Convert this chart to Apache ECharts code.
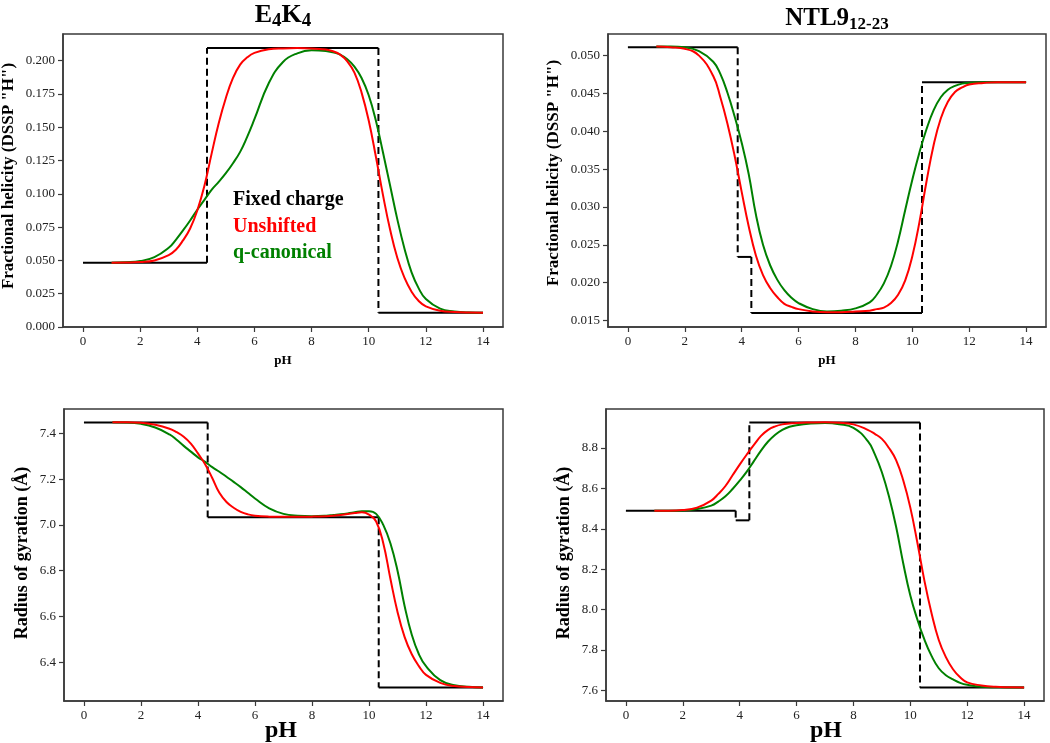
<!DOCTYPE html>
<html><head><meta charset="utf-8">
<script src="https://cdn.jsdelivr.net/npm/echarts@6/dist/echarts.min.js"></script>
<style>html,body{margin:0;padding:0;background:#fff}#c{width:1050px;height:743px}</style>
</head><body><div id="c"></div>
<script>
// ---------------- DATA ----------------
const pH = [1, 1.5, 2, 2.5, 3, 3.25, 3.5, 3.75, 4, 4.25, 4.5, 4.75, 5, 5.25, 5.5, 5.75, 6, 6.5, 7, 7.5,
            8, 8.5, 8.75, 9, 9.25, 9.5, 9.75, 10, 10.25, 10.5, 10.75, 11, 11.25, 11.5, 11.75, 12, 12.5, 13, 13.5, 14];

// E4K4 fractional helicity
const e4k4HelixUnshifted = [0.0483, 0.0484, 0.0488, 0.0500, 0.0540, 0.0580, 0.0650, 0.0740, 0.0875, 0.1060, 0.1300, 0.1530, 0.1720, 0.1870, 0.1970, 0.2025, 0.2058, 0.2085, 0.2092, 0.2094,
                            0.2092, 0.2083, 0.2070, 0.2045, 0.1995, 0.1910, 0.1760, 0.1550, 0.1280, 0.0990, 0.0730, 0.0520, 0.0370, 0.0265, 0.0195, 0.0155, 0.0122, 0.0112, 0.0108, 0.0107];
const e4k4HelixQcanonical = [0.0483, 0.0486, 0.0495, 0.0525, 0.0595, 0.0655, 0.0725, 0.0800, 0.0880, 0.0955, 0.1030, 0.1090, 0.1155, 0.1230, 0.1315, 0.1430, 0.1560, 0.1830, 0.1990, 0.2055,
                             0.2078, 0.2073, 0.2062, 0.2045, 0.2010, 0.1955, 0.1870, 0.1740, 0.1550, 0.1310, 0.1060, 0.0810, 0.0590, 0.0410, 0.0290, 0.0210, 0.0138, 0.0117, 0.0109, 0.0107];
const e4k4HelixFixedBreaks = [4.34, 10.34];
const e4k4HelixFixedLevels = [0.0483, 0.2095, 0.0107];

// NTL9(12-23) fractional helicity
const ntl9HelixUnshifted = [0.0512, 0.0511, 0.0509, 0.0500, 0.0473, 0.0445, 0.0410, 0.0368, 0.0320, 0.0274, 0.0236, 0.0210, 0.0193, 0.0181, 0.0172, 0.0168, 0.0165, 0.0162, 0.0161, 0.0161,
                            0.0162, 0.0163, 0.0165, 0.0167, 0.0173, 0.0184, 0.0203, 0.0235, 0.0280, 0.0334, 0.0382, 0.0417, 0.0439, 0.0452, 0.0458, 0.0462, 0.0464, 0.0465, 0.0465, 0.0465];
const ntl9HelixQcanonical = [0.0512, 0.0512, 0.0511, 0.0506, 0.0492, 0.0476, 0.0451, 0.0420, 0.0385, 0.0343, 0.0290, 0.0250, 0.0223, 0.0204, 0.0190, 0.0180, 0.0173, 0.0165, 0.0162, 0.0163,
                             0.0166, 0.0174, 0.0184, 0.0199, 0.0222, 0.0255, 0.0296, 0.0336, 0.0372, 0.0403, 0.0428, 0.0445, 0.0455, 0.0460, 0.0463, 0.0464, 0.0465, 0.0465, 0.0465, 0.0465];
const ntl9HelixFixedBreaks = [3.86, 4.34, 10.34];
const ntl9HelixFixedLevels = [0.0511, 0.0234, 0.0160, 0.0465];

// E4K4 radius of gyration
const e4k4RgUnshifted = [7.448, 7.448, 7.446, 7.437, 7.420, 7.405, 7.385, 7.355, 7.312, 7.265, 7.205, 7.140, 7.100, 7.075, 7.057, 7.046, 7.040, 7.036, 7.035, 7.035,
                         7.036, 7.038, 7.040, 7.043, 7.048, 7.052, 7.055, 7.045, 7.015, 6.920, 6.765, 6.620, 6.510, 6.435, 6.383, 6.345, 6.310, 6.296, 6.292, 6.290];
const e4k4RgQcanonical = [7.448, 7.447, 7.441, 7.425, 7.395, 7.372, 7.345, 7.320, 7.295, 7.275, 7.252, 7.232, 7.210, 7.188, 7.165, 7.140, 7.115, 7.072, 7.048, 7.040,
                          7.038, 7.040, 7.043, 7.046, 7.050, 7.055, 7.060, 7.060, 7.048, 7.000, 6.920, 6.800, 6.645, 6.520, 6.435, 6.383, 6.322, 6.300, 6.293, 6.290];
const e4k4RgFixedBreaks = [4.34, 10.34];
const e4k4RgFixedLevels = [7.447, 7.033, 6.290];

// NTL9(12-23) radius of gyration
const ntl9RgUnshifted = [8.490, 8.490, 8.493, 8.505, 8.540, 8.573, 8.612, 8.665, 8.718, 8.768, 8.815, 8.860, 8.890, 8.907, 8.917, 8.921, 8.924, 8.926, 8.927, 8.925,
                         8.917, 8.890, 8.870, 8.845, 8.800, 8.740, 8.640, 8.505, 8.330, 8.140, 7.980, 7.850, 7.765, 7.705, 7.665, 7.640, 7.625, 7.618, 7.616, 7.615];
const ntl9RgQcanonical = [8.490, 8.490, 8.491, 8.498, 8.515, 8.535, 8.561, 8.597, 8.638, 8.683, 8.735, 8.787, 8.832, 8.866, 8.890, 8.905, 8.913, 8.921, 8.924, 8.918,
                          8.900, 8.835, 8.770, 8.680, 8.560, 8.410, 8.230, 8.070, 7.950, 7.850, 7.770, 7.710, 7.675, 7.655, 7.638, 7.628, 7.618, 7.616, 7.615, 7.615];
const ntl9RgFixedBreaks = [3.86, 4.34, 10.34];
const ntl9RgFixedLevels = [8.490, 8.442, 8.926, 7.615];

// Tick labels
const pHTicks = [0, 2, 4, 6, 8, 10, 12, 14];
const e4k4HelixTicks = [0.000, 0.025, 0.050, 0.075, 0.100, 0.125, 0.150, 0.175, 0.200];
const ntl9HelixTicks = [0.015, 0.020, 0.025, 0.030, 0.035, 0.040, 0.045, 0.050];
const e4k4RgTicks = [6.4, 6.6, 6.8, 7.0, 7.2, 7.4];
const ntl9RgTicks = [7.6, 7.8, 8.0, 8.2, 8.4, 8.6, 8.8];

const legendLabels = ['Fixed charge', 'Unshifted', 'q-canonical'];
const colors = {fixed: '#000000', unshifted: '#ff0000', qcanonical: '#008000'};

// ---------------- BUILD ----------------
const FONT = "'Liberation Serif', 'Times New Roman', serif";
const FRAME = '#3a3a3a';
const phMin = 0, phMax = 14;

const panels = [
  {grid: {left: 63, top: 34, width: 440, height: 293}, ymin: 0.0, ymax: 0.2200, ticks: e4k4HelixTicks, dec: 3,
   un: e4k4HelixUnshifted, qc: e4k4HelixQcanonical, br: e4k4HelixFixedBreaks, lv: e4k4HelixFixedLevels},
  {grid: {left: 608, top: 34, width: 438, height: 293}, ymin: 0.01414, ymax: 0.05286, ticks: ntl9HelixTicks, dec: 3,
   un: ntl9HelixUnshifted, qc: ntl9HelixQcanonical, br: ntl9HelixFixedBreaks, lv: ntl9HelixFixedLevels},
  {grid: {left: 64, top: 409, width: 439, height: 292}, ymin: 6.231, ymax: 7.506, ticks: e4k4RgTicks, dec: 1,
   un: e4k4RgUnshifted, qc: e4k4RgQcanonical, br: e4k4RgFixedBreaks, lv: e4k4RgFixedLevels},
  {grid: {left: 606, top: 409, width: 438, height: 292}, ymin: 7.548, ymax: 8.993, ticks: ntl9RgTicks, dec: 1,
   un: ntl9RgUnshifted, qc: ntl9RgQcanonical, br: ntl9RgFixedBreaks, lv: ntl9RgFixedLevels}
];

const grids = [], xAxes = [], yAxes = [], series = [];
panels.forEach((p, i) => {
  grids.push(Object.assign({show: true, borderColor: FRAME, borderWidth: 1.5, backgroundColor: '#fff'}, p.grid));
  xAxes.push({
    type: 'value', gridIndex: i, min: -0.7, max: 14.7, position: 'bottom',
    axisLine: {show: true, onZero: false, lineStyle: {color: FRAME, width: 1.5}}, splitLine: {show: false},
    axisTick: {show: true, inside: false, customValues: pHTicks, length: 5, lineStyle: {color: FRAME, width: 1.2}},
    axisLabel: {customValues: pHTicks, fontFamily: FONT, fontSize: 13, color: '#222', margin: 8}
  });
  yAxes.push({
    type: 'value', gridIndex: i, min: p.ymin, max: p.ymax, position: 'left',
    axisLine: {show: true, onZero: false, lineStyle: {color: FRAME, width: 1.5}}, splitLine: {show: false},
    axisTick: {show: true, inside: false, customValues: p.ticks, length: 5, lineStyle: {color: FRAME, width: 1.2}},
    axisLabel: {customValues: p.ticks, fontFamily: FONT, fontSize: 13, color: '#222', margin: 8,
                formatter: v => Number(v).toFixed(p.dec)}
  });
  // Fixed charge: solid horizontals, dashed verticals
  const n = p.br.length;
  for (let k = 0; k <= n; k++) {
    const x0 = k === 0 ? phMin : p.br[k - 1];
    const x1 = k === n ? phMax : p.br[k];
    series.push({type: 'line', xAxisIndex: i, yAxisIndex: i, z: 2, showSymbol: false, silent: true,
      lineStyle: {color: colors.fixed, width: 2},
      data: [[x0, p.lv[k]], [x1, p.lv[k]]]});
  }
  for (let k = 0; k < n; k++) {
    series.push({type: 'line', xAxisIndex: i, yAxisIndex: i, z: 2, showSymbol: false, silent: true,
      lineStyle: {color: colors.fixed, width: 2, type: [7, 4]},
      data: [[p.br[k], p.lv[k]], [p.br[k], p.lv[k + 1]]]});
  }
  series.push({type: 'line', xAxisIndex: i, yAxisIndex: i, z: 3, showSymbol: false, silent: true,
    smooth: 0.45, lineStyle: {color: colors.qcanonical, width: 2},
    data: pH.map((x, j) => [x, p.qc[j]])});
  series.push({type: 'line', xAxisIndex: i, yAxisIndex: i, z: 4, showSymbol: false, silent: true,
    smooth: 0.45, lineStyle: {color: colors.unshifted, width: 2},
    data: pH.map((x, j) => [x, p.un[j]])});
});

function txt(x, y, text, size, opts) {
  return Object.assign({type: 'text', x: x, y: y, z: 100, silent: true,
    style: Object.assign({text: text, fontFamily: FONT, fontWeight: 'bold', fontSize: size, fill: '#000',
      align: 'center', verticalAlign: 'middle'}, (opts && opts.style) || {})}, (opts && opts.el) || {});
}

const graphics = [
  // Titles
  {type: 'text', x: 283, y: 15, z: 100, silent: true, style: {
    text: '{m|E}{s|4}{m|K}{s|4}', align: 'center', verticalAlign: 'middle', fill: '#000',
    rich: {m: {fontFamily: FONT, fontWeight: 'bold', fontSize: 26, fill: '#000'},
           s: {fontFamily: FONT, fontWeight: 'bold', fontSize: 19, fill: '#000', padding: [12, 0, 0, 0]}}}},
  {type: 'text', x: 837, y: 19, z: 100, silent: true, style: {
    text: '{m|NTL9}{s|12-23}', align: 'center', verticalAlign: 'middle', fill: '#000',
    rich: {m: {fontFamily: FONT, fontWeight: 'bold', fontSize: 25, fill: '#000'},
           s: {fontFamily: FONT, fontWeight: 'bold', fontSize: 17, fill: '#000', padding: [12, 0, 0, 0]}}}},
  // Y axis names
  txt(9, 176, 'Fractional helicity (DSSP "H")', 17, {el: {rotation: Math.PI / 2}}),
  txt(554, 173, 'Fractional helicity (DSSP "H")', 17, {el: {rotation: Math.PI / 2}}),
  txt(22, 553, 'Radius of gyration (Å)', 18, {el: {rotation: Math.PI / 2}}),
  txt(564, 553, 'Radius of gyration (Å)', 18, {el: {rotation: Math.PI / 2}}),
  // X axis names
  txt(283, 361, 'pH', 13),
  txt(827, 361, 'pH', 13),
  txt(281, 731, 'pH', 24),
  txt(826, 731, 'pH', 24),
  // Legend
  txt(233, 200, legendLabels[0], 20, {style: {align: 'left', fill: colors.fixed}}),
  txt(233, 227, legendLabels[1], 20, {style: {align: 'left', fill: colors.unshifted}}),
  txt(233, 253, legendLabels[2], 20, {style: {align: 'left', fill: colors.qcanonical}})
];

const chart = echarts.init(document.getElementById('c'), null, {renderer: 'canvas'});
chart.setOption({
  animation: false,
  backgroundColor: '#fff',
  grid: grids, xAxis: xAxes, yAxis: yAxes, series: series,
  graphic: graphics
});
</script></body></html>
